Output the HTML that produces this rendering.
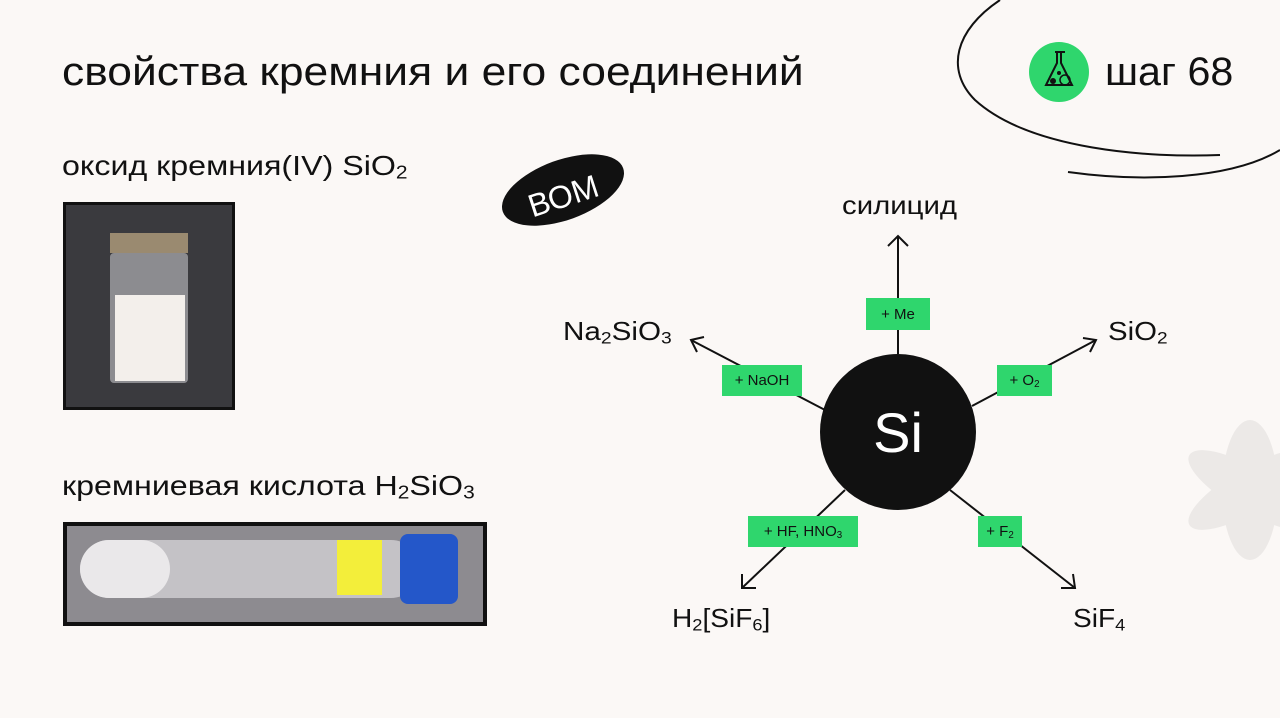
<!DOCTYPE html>
<html><head><meta charset="utf-8"><style>
html,body{margin:0;padding:0}
body{width:1280px;height:718px;background:#fbf8f6;position:relative;overflow:hidden;font-family:"Liberation Sans","DejaVu Sans",sans-serif;color:#111}
.t{position:absolute;white-space:nowrap;transform-origin:0 50%}
sub{font-size:0.65em;vertical-align:-0.2em}
.box{position:absolute;background:#2fd66d;font-size:15px;display:flex;align-items:center;justify-content:center;color:#111}
.box span{white-space:nowrap}
</style></head><body>
<svg width="1280" height="718" style="position:absolute;left:0;top:0">
  <path d="M1000,0 C955,30 945,70 975,100 C1030,150 1150,158 1220,155" fill="none" stroke="#111" stroke-width="2"/>
  <path d="M1068,172 C1140,182 1230,180 1280,150" fill="none" stroke="#111" stroke-width="2"/>
  <g fill="#ece9e7">
    <ellipse cx="1250" cy="490" rx="28" ry="70"/>
    <ellipse cx="1250" cy="490" rx="70" ry="22" transform="rotate(30 1250 490)"/>
    <ellipse cx="1250" cy="490" rx="70" ry="22" transform="rotate(-30 1250 490)"/>
  </g>
  <circle cx="1059" cy="72" r="30" fill="#2fd66d"/>
  <path d="M1055,52 h10 M1057,53 v10 l-11,22 h26 l-11,-22 v-10" fill="none" stroke="#111" stroke-width="2"/>
  <circle cx="1053" cy="81" r="3" fill="#111"/><circle cx="1065" cy="80" r="5" fill="none" stroke="#111" stroke-width="1.5"/><circle cx="1059" cy="73" r="2" fill="#111"/>
  <ellipse cx="563" cy="190" rx="64" ry="30" fill="#111" transform="rotate(-20 563 190)"/>
  <text x="563" y="207" font-size="32" fill="#fff" text-anchor="middle" font-family="Liberation Sans" transform="rotate(-18 563 195)">ВОМ</text>
  <rect x="63" y="202" width="172" height="208" fill="#111"/>
  <rect x="66" y="205" width="166" height="202" fill="#3a3a3e"/>
  <rect x="110" y="233" width="78" height="20" fill="#9a8a70"/>
  <rect x="110" y="253" width="78" height="130" rx="4" fill="#8c8c90"/>
  <rect x="115" y="295" width="70" height="86" fill="#f3efeb"/>
  <rect x="63" y="522" width="424" height="104" fill="#111"/>
  <rect x="67" y="526" width="416" height="96" fill="#8d8b90"/>
  <rect x="80" y="540" width="340" height="58" rx="29" fill="#c4c2c6"/>
  <rect x="80" y="540" width="90" height="58" rx="29" fill="#eae8ea"/>
  <rect x="337" y="540" width="45" height="55" fill="#f3ee3a"/>
  <rect x="400" y="534" width="58" height="70" rx="8" fill="#2457c9"/>
  <g stroke="#111" stroke-width="2" fill="none">
    <line x1="898" y1="354" x2="898" y2="236"/><path d="M888,246 L898,236 L908,246"/>
    <line x1="825" y1="410" x2="691" y2="340"/><path d="M697,352 L691,340 L704,337"/>
    <line x1="972" y1="406" x2="1096" y2="340"/><path d="M1083,338 L1096,340 L1090,352"/>
    <line x1="845" y1="490" x2="742" y2="588"/><path d="M742,574 L742,588 L756,588"/>
    <line x1="950" y1="490" x2="1075" y2="588"/><path d="M1061,588 L1075,588 L1073,574"/>
  </g>
  <circle cx="898" cy="432" r="78" fill="#111"/>
  <text x="898" y="452" font-size="56" fill="#fff" text-anchor="middle" font-family="Liberation Sans">Si</text>
</svg>
<div class="t" style="left:62px;top:50px;font-size:40px;transform:scaleX(1.11)">свойства кремния и его соединений</div>
<div class="t" style="left:1105px;top:50px;font-size:40px;transform:scaleX(1.03)">шаг 68</div>
<div class="t" style="left:62px;top:150px;font-size:28px;transform:scaleX(1.15)">оксид кремния(IV) SiO<sub>2</sub></div>
<div class="t" style="left:62px;top:470px;font-size:28px;transform:scaleX(1.15)">кремниевая кислота H<sub>2</sub>SiO<sub>3</sub></div>
<div class="t" style="left:842px;top:190px;font-size:26px;transform:scaleX(1.13)">силицид</div>
<div class="t" style="left:563px;top:316px;font-size:26px;transform:scaleX(1.14)">Na<sub>2</sub>SiO<sub>3</sub></div>
<div class="t" style="left:1108px;top:316px;font-size:26px;transform:scaleX(1.13)">SiO<sub>2</sub></div>
<div class="t" style="left:672px;top:603px;font-size:26px;transform:scaleX(1.08)">H<sub>2</sub>[SiF<sub>6</sub>]</div>
<div class="t" style="left:1073px;top:603px;font-size:26px;transform:scaleX(1.08)">SiF<sub>4</sub></div>
<div class="box" style="left:866px;top:298px;width:64px;height:32px"><span>+ Me</span></div>
<div class="box" style="left:722px;top:365px;width:80px;height:31px"><span>+ NaOH</span></div>
<div class="box" style="left:997px;top:365px;width:55px;height:31px"><span>+ O<sub>2</sub></span></div>
<div class="box" style="left:748px;top:516px;width:110px;height:31px"><span>+ HF, HNO<sub>3</sub></span></div>
<div class="box" style="left:978px;top:516px;width:44px;height:31px"><span>+ F<sub>2</sub></span></div>
</body></html>
